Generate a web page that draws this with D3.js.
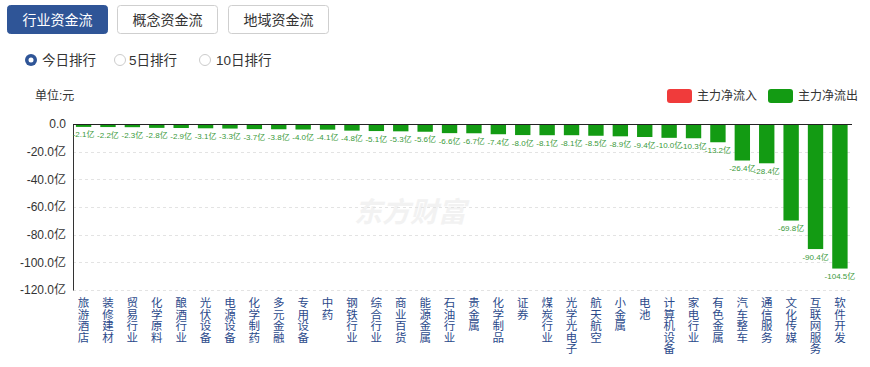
<!DOCTYPE html>
<html>
<head>
<meta charset="utf-8">
<script src="https://cdn.jsdelivr.net/npm/d3@7"></script>
<style>
  body { margin: 0; background: #fff; font-family: "Liberation Sans", "Noto Sans CJK SC", sans-serif; }
  #chart { width: 870px; height: 367px; }
</style>
</head>
<body>
<div id="chart"></div>
<script>
// industry net flow (亿), today's ranking
var categories = ["旅游酒店","装修建材","贸易行业","化学原料","酿酒行业","光伏设备","电源设备","化学制药",
  "多元金融","专用设备","中药","钢铁行业","综合行业","商业百货","能源金属","石油行业","贵金属",
  "化学制品","证券","煤炭行业","光学光电子","航天航空","小金属","电池","计算机设备","家电行业",
  "有色金属","汽车整车","通信服务","文化传媒","互联网服务","软件开发"];
var values = [-2.1,-2.2,-2.3,-2.8,-2.9,-3.1,-3.3,-3.7,-3.8,-4.0,-4.1,-4.8,-5.1,-5.3,-5.6,-6.6,-6.7,
  -7.4,-8.0,-8.1,-8.1,-8.5,-8.9,-9.4,-10.0,-10.3,-13.2,-26.4,-28.4,-69.8,-90.4,-104.5];
var yTicks = [0,-20,-40,-60,-80,-100,-120];
var tabs = ["行业资金流","概念资金流","地域资金流"];
var radios = ["今日排行","5日排行","10日排行"];
var legendItems = [{name:"主力净流入", color:"#f03b3b"}, {name:"主力净流出", color:"#139b13"}];

var width = 870, height = 367;
var svg = d3.select("#chart").append("svg")
  .attr("width", width)
  .attr("height", height);

// tabs
var tabX = [7, 117, 228];
tabs.forEach(function(t, i){
  svg.append("rect")
    .attr("x", tabX[i] + 0.5).attr("y", 5.5)
    .attr("width", 100).attr("height", 28)
    .attr("rx", 3)
    .style("fill", i == 0 ? "#2f5597" : "#fff")
    .style("stroke", i == 0 ? "#2f5597" : "#cfcfcf");
  svg.append("text")
    .attr("x", tabX[i] + 50.5).attr("y", 20)
    .attr("text-anchor", "middle")
    .attr("dominant-baseline", "central")
    .style("font-size", "14px")
    .style("fill", i == 0 ? "#fff" : "#333")
    .text(t);
});

// radio row
var radioX = [31, 120, 205];
var radioTextX = [42, 129, 216];
radios.forEach(function(r, i){
  if(i == 0){
    svg.append("circle").attr("cx", radioX[i]).attr("cy", 60).attr("r", 6).style("fill", "#2f5597");
    svg.append("circle").attr("cx", radioX[i]).attr("cy", 60).attr("r", 2.5).style("fill", "#fff");
  } else {
    svg.append("circle").attr("cx", radioX[i]).attr("cy", 60).attr("r", 5.5)
      .style("fill", "#fff").style("stroke", "#ccc");
  }
  svg.append("text")
    .attr("x", radioTextX[i]).attr("y", 60)
    .attr("dominant-baseline", "central")
    .style("font-size", "13.5px")
    .style("fill", "#333")
    .text(r);
});

// unit label
svg.append("text")
  .attr("x", 35).attr("y", 96)
  .attr("dominant-baseline", "central")
  .style("font-size", "12px")
  .style("fill", "#333")
  .text("单位:元");

// legend
var legX = [667, 768];
legendItems.forEach(function(d, i){
  svg.append("rect")
    .attr("x", legX[i]).attr("y", 89)
    .attr("width", 25).attr("height", 14)
    .attr("rx", 3)
    .style("fill", d.color);
  svg.append("text")
    .attr("x", legX[i] + 30).attr("y", 96)
    .attr("dominant-baseline", "central")
    .style("font-size", "12px")
    .style("fill", "#333")
    .text(d.name);
});

// watermark
svg.append("text")
  .attr("x", 410).attr("y", 212)
  .attr("text-anchor", "middle")
  .attr("dominant-baseline", "central")
  .style("font-size", "28px")
  .style("font-weight", "bold")
  .style("font-style", "italic")
  .style("fill", "#f2f2f2")
  .text("东方财富");

// scales
var x = d3.scaleBand().domain(categories).range([71.5, 852]).paddingInner(0.37).paddingOuter(0.18);
var y = d3.scaleLinear().domain([-120, 0]).range([290, 124]);

// grid
svg.append("g").selectAll("line")
  .data(yTicks.filter(function(d){ return d != 0; }))
  .enter().append("line")
    .attr("x1", 73).attr("x2", 852)
    .attr("y1", function(d){ return Math.round(y(d)) + 0.5; })
    .attr("y2", function(d){ return Math.round(y(d)) + 0.5; })
    .style("stroke", "#e3e3e3")
    .style("stroke-dasharray", "3,3");

// y axis
var yAxis = svg.append("g")
  .attr("transform", "translate(73,0)")
  .call(d3.axisLeft(y).tickValues(yTicks).tickSize(0).tickPadding(7)
    .tickFormat(function(d){ return d == 0 ? "0.0" : d.toFixed(1) + "亿"; }));
yAxis.select(".domain").style("stroke", "#333");
yAxis.selectAll("text")
  .style("font-size", "12px")
  .style("fill", "#333")
  .style("font-family", "Liberation Sans, Noto Sans CJK SC, sans-serif");

// bars
svg.append("g").selectAll("rect")
  .data(values)
  .enter().append("rect")
    .attr("x", function(d, i){ return x(categories[i]); })
    .attr("y", y(0))
    .attr("width", x.bandwidth())
    .attr("height", function(d){ return y(d) - y(0); })
    .style("fill", function(d){ return d >= 0 ? legendItems[0].color : legendItems[1].color; });

// zero line
svg.append("line")
  .attr("x1", 73).attr("x2", 852)
  .attr("y1", y(0) + 0.5).attr("y2", y(0) + 0.5)
  .style("stroke", "#222");

// value labels
svg.append("g").selectAll("text")
  .data(values)
  .enter().append("text")
    .attr("x", function(d, i){ return x(categories[i]) + x.bandwidth() / 2; })
    .attr("y", function(d){ return y(d) + 8; })
    .attr("text-anchor", "middle")
    .attr("dominant-baseline", "central")
    .style("font-size", "8px")
    .style("fill", "#3a9a3a")
    .text(function(d){ return d.toFixed(1) + "亿"; });

// vertical category labels, one char per line
var catText = svg.append("g").selectAll("text")
  .data(categories)
  .enter().append("text")
    .attr("x", function(d){ return x(d) + x.bandwidth() / 2; })
    .attr("y", 303)
    .attr("text-anchor", "middle")
    .style("font-size", "11.5px")
    .style("fill", "#2b4a8b");
catText.selectAll("tspan")
  .data(function(d){ return d.split(""); })
  .enter().append("tspan")
    .attr("x", function(){ return d3.select(this.parentNode).attr("x"); })
    .attr("dy", function(d, j){ return j == 0 ? "0.35em" : "11.5"; })
    .text(function(d){ return d; });
</script>
</body>
</html>
